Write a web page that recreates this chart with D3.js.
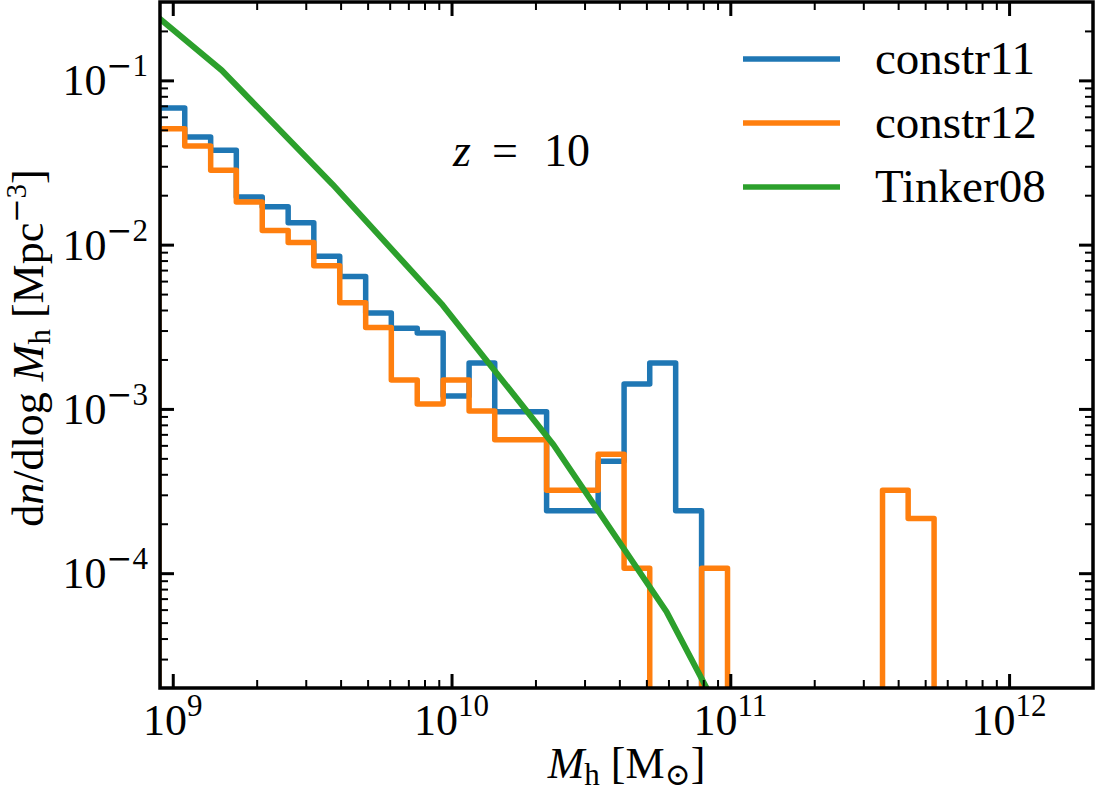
<!DOCTYPE html>
<html>
<head>
<meta charset="utf-8">
<script src="https://cdn.jsdelivr.net/npm/d3@7"></script>
<style>
  body { margin: 0; background: #fff; }
  svg { display: block; }
  text { font-family: "Liberation Serif", "DejaVu Serif", serif; fill: #000; }
  .minus { font-family: "DejaVu Serif", serif; }
</style>
</head>
<body>
<svg id="chart" width="1095" height="795"></svg>
<script>
// bin edges of the halo histograms, log10(M / Msun)
const binEdges = [8.950, 9.043, 9.136, 9.228, 9.321, 9.414, 9.506, 9.599, 9.692, 9.784,
    9.877, 9.970, 10.063, 10.155, 10.248, 10.341, 10.433, 10.526, 10.619, 10.711,
    10.804, 10.897, 10.990, 11.082, 11.175, 11.268, 11.360, 11.453, 11.546, 11.638, 11.731]

// dn/dlogM per bin [Mpc^-3], 0 = empty bin
const constr11 = [0.068, 0.0452, 0.0375, 0.0195, 0.0170, 0.0136, 0.0085, 0.0064, 0.00384, 0.0031,
    0.0029, 0.0012, 0.0019, 0.00096, 0.00096, 0.00024, 0.00024, 0.00048, 0.00142, 0.0019,
    0.00024, 0, 0, 0, 0, 0, 0, 0, 0, 0]
const constr12 = [0.0508, 0.0399, 0.0284, 0.0182, 0.0122, 0.0103, 0.00743, 0.00443, 0.00313, 0.0015,
    0.00107, 0.0015, 0.00097, 0.00065, 0.00065, 0.00032, 0.00032, 0.00053, 0.000107, 0,
    0, 0.000107, 0, 0, 0, 0, 0, 0, 0.00032, 0.000215]

// Tinker08 mass function
const tinkerLogM = [8.778, 9.176, 9.573, 9.968, 10.366, 10.771, 11.17]
const tinker08 = [0.42, 0.115, 0.0233, 0.00429, 0.000604, 5.83e-5, 3.0e-6]

const xMajor = [1e9, 1e10, 1e11, 1e12]
const xMajorExp = ['9', '10', '11', '12']
const yMajor = [1e-1, 1e-2, 1e-3, 1e-4]
const yMajorExp = ['1', '2', '3', '4']

const seriesNames = ['constr11', 'constr12', 'Tinker08']
const colors = ['#1f77b4', '#ff7f0e', '#2ca02c']

const plotLeft = 160, plotRight = 1093, plotTop = 2, plotBottom = 688
const fontSize = 44

let svg = d3.select('#chart')

let x = d3.scaleLog().domain([9e8, 2e12]).range([plotLeft, plotRight])
let y = d3.scaleLog().domain([2e-5, 0.3]).range([plotBottom, plotTop])

svg.append('clipPath').attr('id', 'plotclip')
    .append('rect')
    .attr('x', plotLeft).attr('y', plotTop)
    .attr('width', plotRight - plotLeft).attr('height', plotBottom - plotTop)

let plot = svg.append('g').attr('clip-path', 'url(#plotclip)')

// step outline like matplotlib histtype='step'
function stepPoints(values) {
    let floor = 1e-9
    let pts = [[binEdges[0], floor]]
    values.forEach((v, i) => {
        let val = v > 0 ? v : floor
        pts.push([binEdges[i], val])
        pts.push([binEdges[i + 1], val])
    })
    pts.push([binEdges[binEdges.length - 1], floor])
    return pts
}

let line = d3.line()
    .x(d => x(Math.pow(10, d[0])))
    .y(d => y(d[1]))

;[constr11, constr12].forEach((vals, i) => {
    plot.append('path')
        .attr('d', line(stepPoints(vals)))
        .attr('fill', 'none')
        .attr('stroke', colors[i])
        .attr('stroke-width', 5.5)
        .attr('stroke-linejoin', 'round')
})

plot.append('path')
    .attr('d', line(tinkerLogM.map((m, i) => [m, tinker08[i]])))
    .attr('fill', 'none')
    .attr('stroke', colors[2])
    .attr('stroke-width', 6)
    .attr('stroke-linejoin', 'round')

// minor tick values
function minors(lo, hi, from, to) {
    let out = []
    for (let e = from; e <= to; e++) {
        for (let m = 2; m <= 9; m++) {
            let v = m * Math.pow(10, e)
            if (v > lo * 1.001 && v < hi * 0.999) out.push(v)
        }
    }
    return out
}
const xMinor = minors(9e8, 2e12, 8, 12)
const yMinor = minors(2e-5, 0.3, -5, -1)

function styleAxis(g, width) {
    g.select('.domain').remove()
    g.selectAll('.tick line').attr('stroke', '#000').attr('stroke-width', width)
    g.selectAll('.tick text').remove()
}

svg.append('g').attr('transform', `translate(0,${plotBottom})`)
    .call(d3.axisBottom(x).tickValues(xMajor).tickSize(-14)).call(g => styleAxis(g, 3))
svg.append('g').attr('transform', `translate(0,${plotBottom})`)
    .call(d3.axisBottom(x).tickValues(xMinor).tickSize(-8)).call(g => styleAxis(g, 2))
svg.append('g').attr('transform', `translate(0,${plotTop})`)
    .call(d3.axisTop(x).tickValues(xMajor).tickSize(-14)).call(g => styleAxis(g, 3))
svg.append('g').attr('transform', `translate(0,${plotTop})`)
    .call(d3.axisTop(x).tickValues(xMinor).tickSize(-8)).call(g => styleAxis(g, 2))
svg.append('g').attr('transform', `translate(${plotLeft},0)`)
    .call(d3.axisLeft(y).tickValues(yMajor).tickSize(-14)).call(g => styleAxis(g, 3))
svg.append('g').attr('transform', `translate(${plotLeft},0)`)
    .call(d3.axisLeft(y).tickValues(yMinor).tickSize(-8)).call(g => styleAxis(g, 2))
svg.append('g').attr('transform', `translate(${plotRight},0)`)
    .call(d3.axisRight(y).tickValues(yMajor).tickSize(-14)).call(g => styleAxis(g, 3))
svg.append('g').attr('transform', `translate(${plotRight},0)`)
    .call(d3.axisRight(y).tickValues(yMinor).tickSize(-8)).call(g => styleAxis(g, 2))

// spines
svg.append('rect')
    .attr('x', plotLeft).attr('y', plotTop)
    .attr('width', plotRight - plotLeft).attr('height', plotBottom - plotTop)
    .attr('fill', 'none').attr('stroke', '#000').attr('stroke-width', 3.5)

// tick labels
xMajor.forEach((v, i) => {
    let t = svg.append('text')
        .attr('x', x(v)).attr('y', plotBottom + 47)
        .attr('text-anchor', 'middle')
        .attr('font-size', fontSize)
    t.append('tspan').text('10')
    t.append('tspan').attr('dy', -19).attr('font-size', 31).text(xMajorExp[i])
})
yMajor.forEach((v, i) => {
    let t = svg.append('text')
        .attr('x', plotLeft - 12).attr('y', y(v) + 15)
        .attr('text-anchor', 'end')
        .attr('font-size', fontSize)
    t.append('tspan').text('10')
    t.append('tspan').attr('class', 'minus').attr('dy', -19).attr('font-size', 31).text('\u2212')
    t.append('tspan').attr('font-size', 31).text(yMajorExp[i])
})

// axis labels
let xl = svg.append('text')
    .attr('x', (plotLeft + plotRight) / 2).attr('y', 778)
    .attr('text-anchor', 'middle')
    .attr('font-size', fontSize)
xl.append('tspan').attr('font-style', 'italic').text('M')
xl.append('tspan').attr('dy', 7).attr('font-size', 31).text('h')
xl.append('tspan').attr('dy', -7).text(' [M')
xl.append('tspan').attr('dy', 7).attr('font-size', 31).text('\u2299')
xl.append('tspan').attr('dy', -7).text(']')

let yl = svg.append('text')
    .attr('transform', `translate(43,${(plotTop + plotBottom) / 2 + 3}) rotate(-90)`)
    .attr('text-anchor', 'middle')
    .attr('font-size', fontSize)
yl.append('tspan').text('d')
yl.append('tspan').attr('font-style', 'italic').text('n')
yl.append('tspan').text('/dlog ')
yl.append('tspan').attr('font-style', 'italic').text('M')
yl.append('tspan').attr('dy', 7).attr('font-size', 31).text('h')
yl.append('tspan').attr('dy', -7).text(' [Mpc')
yl.append('tspan').attr('class', 'minus').attr('dy', -17).attr('font-size', 29).text('\u2212')
yl.append('tspan').attr('font-size', 29).text('3')
yl.append('tspan').attr('dy', 17).text(']')

// redshift annotation
let zt = svg.append('text').attr('y', 166).attr('font-size', fontSize + 2)
zt.append('tspan').attr('x', 453).attr('font-style', 'italic').text('z')
zt.append('tspan').attr('x', 492).text('=')
zt.append('tspan').attr('x', 544).text('10')

// legend
seriesNames.forEach((name, i) => {
    let ly = 59 + i * 64
    svg.append('line')
        .attr('x1', 743).attr('x2', 840)
        .attr('y1', ly).attr('y2', ly)
        .attr('stroke', colors[i]).attr('stroke-width', 5.5)
    svg.append('text')
        .attr('x', 875).attr('y', ly + 15)
        .attr('font-size', fontSize + 3)
        .text(name)
})
</script>
</body>
</html>
